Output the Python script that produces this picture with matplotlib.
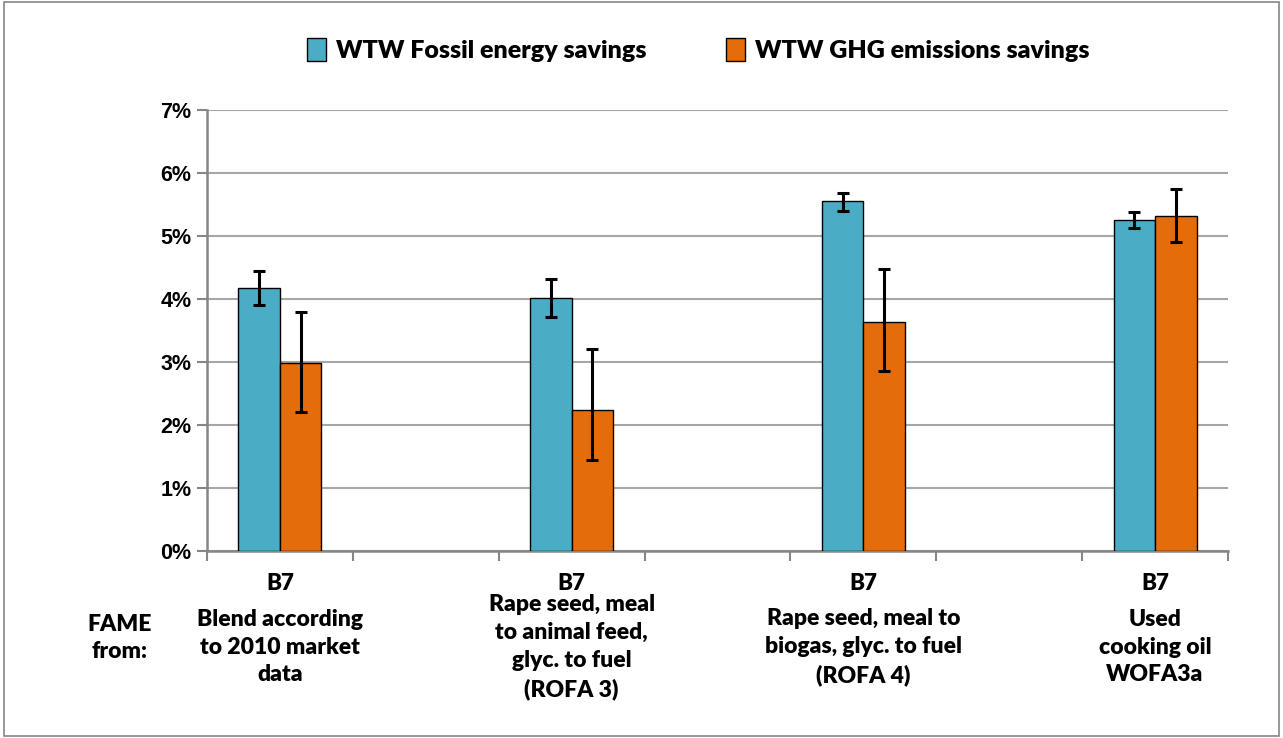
import matplotlib
matplotlib.use("Agg")
import matplotlib.pyplot as plt
from matplotlib.patches import Patch, Rectangle
import numpy as np

plt.rcParams['font.family'] = ['Lato', 'DejaVu Sans']
plt.rcParams['font.weight'] = 'bold'

# ---- data ----
categories = ["B7", "", "B7", "", "B7", "", "B7"]
descriptions = ["Blend according\nto 2010 market\ndata", "",
                "Rape seed, meal\nto animal feed,\nglyc. to fuel\n(ROFA 3)", "",
                "Rape seed, meal to\nbiogas, glyc. to fuel\n(ROFA 4)", "",
                "Used\ncooking oil\nWOFA3a"]
fossil = [4.18, np.nan, 4.01, np.nan, 5.56, np.nan, 5.25]
fossil_err_low = [0.27, 0, 0.29, 0, 0.16, 0, 0.13]
fossil_err_high = [0.27, 0, 0.30, 0, 0.13, 0, 0.13]
ghg = [2.99, np.nan, 2.24, np.nan, 3.64, np.nan, 5.31]
ghg_err_low = [0.79, 0, 0.80, 0, 0.79, 0, 0.40]
ghg_err_high = [0.81, 0, 0.97, 0, 0.83, 0, 0.44]
series_names = ["WTW Fossil energy savings", "WTW GHG emissions savings"]
yticks = [0, 1, 2, 3, 4, 5, 6, 7]
ytick_labels = ["0%", "1%", "2%", "3%", "4%", "5%", "6%", "7%"]

teal = "#4BACC6"
orange = "#E46C0A"

fig = plt.figure(figsize=(12.83, 7.38), dpi=100)
ax = fig.add_axes([207/1283, 1-551/738, (1228-207)/1283, (551-110)/738])

x = np.arange(len(categories))
w = 0.285
ax.bar(x - w/2, fossil, w, color=teal, edgecolor="black", linewidth=1.0, zorder=3)
ax.bar(x + w/2, ghg, w, color=orange, edgecolor="black", linewidth=1.0, zorder=3)
ax.errorbar(x - w/2, fossil, yerr=[fossil_err_low, fossil_err_high], fmt='none',
            ecolor="black", elinewidth=2.2, capsize=4.5, capthick=2.2, zorder=4)
ax.errorbar(x + w/2, ghg, yerr=[ghg_err_low, ghg_err_high], fmt='none',
            ecolor="black", elinewidth=2.2, capsize=4.5, capthick=2.2, zorder=4)

ax.set_xlim(-0.5, len(categories) - 0.5)
ax.set_ylim(0, 7)
ax.set_yticks(yticks)
ax.set_yticklabels(ytick_labels, fontsize=15.5, fontweight='bold',
                   family=['Liberation Sans', 'DejaVu Sans'])
ax.yaxis.grid(True, color="#a6a6a6", linewidth=1.5, zorder=0)
ax.set_axisbelow(True)

ax.set_xticks(np.arange(len(categories) + 1) - 0.5, minor=False)
ax.set_xticklabels([""] * (len(categories) + 1))
ax.set_xticks(x, minor=True)
ax.set_xticklabels(categories, minor=True, fontsize=16, fontweight='heavy')
ax.tick_params(axis='x', which='minor', length=0, pad=16)
ax.tick_params(axis='x', which='major', length=7, color="#868686", width=1.5)
ax.tick_params(axis='y', length=7, color="#868686", width=1.5, pad=4)

for s in ["top", "right"]:
    ax.spines[s].set_visible(False)
for s in ["left", "bottom"]:
    ax.spines[s].set_color("#868686")
    ax.spines[s].set_linewidth(1.8)

# description labels under ticks
desc_y = 1 - 647/738
for xi, d in zip(x, descriptions):
    if d:
        xf = fig.transFigure.inverted().transform(ax.transData.transform((xi, 0)))[0]
        fig.text(xf, desc_y, d, ha='center', va='center', fontsize=16.5,
                 fontweight='heavy', linespacing=1.4)
fig.text(120/1283, 1 - 638/738, "FAME\nfrom:", ha='center', va='center',
         fontsize=16.5, fontweight='heavy', linespacing=1.4)

handles = [Patch(facecolor=teal, edgecolor="black", linewidth=1.0),
           Patch(facecolor=orange, edgecolor="black", linewidth=1.0)]
fig.legend(handles, series_names, loc='center', bbox_to_anchor=(698/1283, 1 - 50/738),
           ncol=2, frameon=False, prop={'size': 18, 'weight': 'heavy'},
           handlelength=0.75, handleheight=1.0, handletextpad=0.4, columnspacing=3.2)

fig.add_artist(Rectangle((0.003, 0.003), 0.994, 0.994, transform=fig.transFigure,
                         fill=False, edgecolor="#868686", linewidth=1.2))

fig.savefig("out.png", dpi=100)
